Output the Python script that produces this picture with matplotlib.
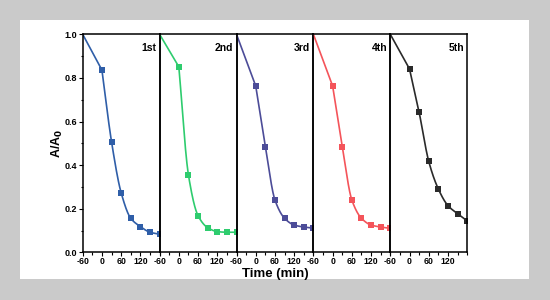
import numpy as np
import matplotlib.pyplot as plt
from matplotlib.ticker import MultipleLocator

plt.rcParams['font.family'] = ['Liberation Sans', 'DejaVu Sans']

# data
times = [0, 30, 60, 90, 120, 150, 180]
start_time = -60
start_value = 1.0
run_labels = ['1st', '2nd', '3rd', '4th', '5th']
run1 = [0.836, 0.507, 0.273, 0.156, 0.118, 0.092, 0.083]
run2 = [0.851, 0.355, 0.168, 0.113, 0.095, 0.092, 0.092]
run3 = [0.763, 0.485, 0.240, 0.156, 0.125, 0.116, 0.111]
run4 = [0.763, 0.485, 0.240, 0.156, 0.125, 0.116, 0.110]
run5 = [0.841, 0.642, 0.417, 0.290, 0.214, 0.177, 0.144]
runs = [run1, run2, run3, run4, run5]
colors = ['#2f5ea8', '#2ecc6e', '#4c4c98', '#f4545a', '#2a2a2a']
xticks = [-60, 0, 60, 120]
yticks = [0.0, 0.2, 0.4, 0.6, 0.8, 1.0]


def pchip(x, y, xs):
    # monotone cubic, only used to draw a smooth line through the points
    x = np.asarray(x, float)
    y = np.asarray(y, float)
    h = np.diff(x)
    d = np.diff(y) / h
    m = np.zeros_like(y)
    for k in range(1, len(x) - 1):
        if d[k - 1] * d[k] > 0:
            w1 = 2 * h[k] + h[k - 1]
            w2 = h[k] + 2 * h[k - 1]
            m[k] = (w1 + w2) / (w1 / d[k - 1] + w2 / d[k])
    m[0] = d[0]
    m[-1] = d[-1]
    idx = np.clip(np.searchsorted(x, xs) - 1, 0, len(x) - 2)
    t = (xs - x[idx]) / h[idx]
    h00 = 2 * t**3 - 3 * t**2 + 1
    h10 = t**3 - 2 * t**2 + t
    h01 = -2 * t**3 + 3 * t**2
    h11 = t**3 - t**2
    return h00 * y[idx] + h10 * h[idx] * m[idx] + h01 * y[idx + 1] + h11 * h[idx] * m[idx + 1]


fig = plt.figure(figsize=(5.5, 3.0), dpi=100)
fig.patch.set_facecolor('#cacaca')
# white card behind the plot
bg = fig.add_axes([20 / 550, 1 - 279 / 300, 509 / 550, 259 / 300], zorder=-10)
bg.set_facecolor('white')
bg.set_xticks([])
bg.set_yticks([])
for s in bg.spines.values():
    s.set_visible(False)

left = 82.7 / 550
width = 76.9 / 550
bottom = 1 - 252.3 / 300
height = 218 / 300
axes = []
for i, (vals, col, lab) in enumerate(zip(runs, colors, run_labels)):
    ax = fig.add_axes([left + i * width, bottom, width, height])
    ax.set_facecolor('none')
    xs = np.linspace(times[0], times[-1], 200)
    ax.plot([start_time, times[0]], [start_value, vals[0]], color=col, lw=1.2)
    ax.plot(xs, pchip(times, vals, xs), color=col, lw=1.2)
    ax.plot(times, vals, 's', color=col, ms=4.2, mew=0, clip_on=True)
    ax.set_xlim(-60, 180)
    ax.set_ylim(0, 1)
    ax.set_xticks(xticks)
    ax.xaxis.set_minor_locator(MultipleLocator(30))
    ax.set_xticklabels([str(t) for t in xticks], fontsize=6.3, fontweight='bold')
    ax.tick_params(axis='x', which='major', length=3, width=0.8, pad=0.5)
    ax.tick_params(axis='x', which='minor', length=1.8, width=0.8)
    for s in ax.spines.values():
        s.set_linewidth(1.1)
    if i == 0:
        ax.set_yticks(yticks)
        ax.set_yticklabels([f'{v:.1f}' for v in yticks], fontsize=6.5, fontweight='bold')
        ax.yaxis.set_minor_locator(MultipleLocator(0.1))
        ax.tick_params(axis='y', which='major', length=3, width=0.8, pad=1)
        ax.tick_params(axis='y', which='minor', length=1.8, width=0.8)
        ax.set_ylabel('A/A$_\\mathbf{0}$', fontsize=9, fontweight='bold', labelpad=0)
    else:
        ax.set_yticks([])
    ax.text(0.96, 0.935, lab, transform=ax.transAxes, ha='right', va='center',
            fontsize=7.5, fontweight='bold')
    axes.append(ax)

fig.text((82.7 + 467.3) / 2 / 550, 1 - 274 / 300, 'Time (min)', ha='center', va='center',
         fontsize=9.5, fontweight='bold')

fig.savefig('out.png', dpi=100, facecolor=fig.get_facecolor())
